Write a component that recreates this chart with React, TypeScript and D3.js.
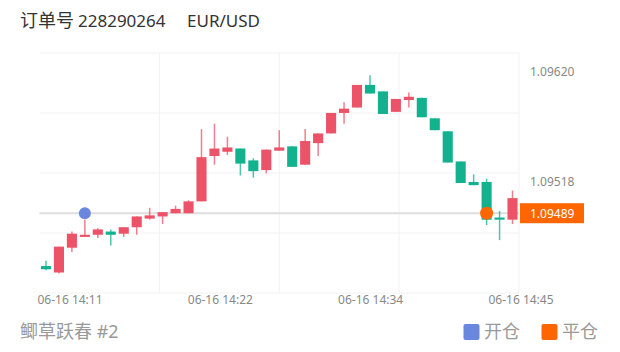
import React from "react";
import * as d3 from "d3";

const times = [
  "14:09","14:10","14:11","14:12","14:13","14:14","14:15","14:16","14:17","14:18",
  "14:19","14:20","14:21","14:22","14:23","14:24","14:25","14:26","14:27","14:28",
  "14:29","14:30","14:31","14:32","14:33","14:34","14:35","14:36","14:37","14:38",
  "14:39","14:40","14:41","14:42","14:43","14:44","14:45",
];
const opens = [
  1.09440,1.09434,1.09457,1.09467,1.09469,1.09472,1.09470,1.09476,1.09484,1.09486,
  1.09489,1.09489,1.09500,1.09542,1.09546,1.09549,1.09538,1.09529,1.09547,1.09551,
  1.09534,1.09554,1.09563,1.09582,1.09587,1.09608,1.09602,1.09583,1.09594,1.09596,
  1.09577,1.09565,1.09537,1.09518,1.09518,1.09485,1.09483,
];
const closes = [
  1.09437,1.09458,1.09470,1.09469,1.09474,1.09469,1.09476,1.09486,1.09487,1.09490,
  1.09493,1.09500,1.09541,1.09549,1.09550,1.09535,1.09528,1.09548,1.09550,1.09532,
  1.09556,1.09563,1.09582,1.09586,1.09608,1.09600,1.09581,1.09595,1.09597,1.09578,
  1.09566,1.09536,1.09517,1.09515,1.09483,1.09483,1.09503,
];
const highs = [
  1.09445,1.09458,1.09472,1.09483,1.09475,1.09474,1.09476,1.09486,1.09494,1.09490,
  1.09496,1.09501,1.09567,1.09572,1.09560,1.09549,1.09540,1.09548,1.09566,1.09551,
  1.09567,1.09563,1.09582,1.09592,1.09608,1.09617,1.09602,1.09595,1.09601,1.09596,
  1.09577,1.09565,1.09537,1.09525,1.09521,1.09491,1.09510,
];
const lows = [
  1.09436,1.09433,1.09453,1.09467,1.09466,1.09459,1.09467,1.09469,1.09483,1.09479,
  1.09489,1.09489,1.09500,1.09534,1.09543,1.09524,1.09522,1.09526,1.09547,1.09532,
  1.09534,1.09542,1.09563,1.09572,1.09587,1.09600,1.09581,1.09583,1.09587,1.09578,
  1.09566,1.09536,1.09517,1.09515,1.09478,1.09464,1.09479,
];
const yAxisLabels = [1.09620, 1.09518];
const xTickLabels = ["06-16 14:11", "06-16 14:22", "06-16 14:34", "06-16 14:45"];
const openTime = "14:12";
const closeTime = "14:43";
const tradePrice = 1.09489;
const legendItems = ["开仓", "平仓"];

const W = 620;
const H = 352;
const plot = { left: 39.5, right: 519, top: 53, bottom: 293 };
const UP = "#ec5368";
const DOWN = "#12b28f";
const OPEN_C = "#6a87de";
const CLOSE_C = "#ff6600";
const FONT = "'Noto Sans', 'Noto Sans CJK SC', sans-serif";

export default function App() {
  const x = d3.scaleBand<string>().domain(times).range([plot.left, plot.right]).paddingInner(0.22).paddingOuter(0.11);
  const y = d3.scaleLinear().domain([1.09415, 1.096376]).range([plot.bottom, plot.top]);
  const bw = x.bandwidth();
  const cx = (t: string) => (x(t) as number) + bw / 2;
  const hGrid = d3.range(5).map((i) => plot.top + ((plot.bottom - plot.top) * i) / 4);
  const vGrid = d3.range(1, 5).map((i) => plot.left + ((plot.right - plot.left) * i) / 4);
  const xLab = d3.scalePoint<string>().domain(xTickLabels).range([70, 521]);
  const fmt = d3.format(".5f");
  const ty = y(tradePrice);

  return (
    <svg width={W} height={H} style={{ position: "absolute", left: 0, top: 0, fontFamily: FONT }}>
      <rect width={W} height={H} fill="#fff" />
      <text x={20} y={27} fontSize={18} fill="#333">订单号</text>
      <text x={78} y={27} fontSize={17} fill="#333">228290264</text>
      <text x={187} y={27} fontSize={17} fill="#333">EUR/USD</text>

      {hGrid.map((g, i) => (
        <line key={"h" + i} x1={plot.left} x2={plot.right} y1={g} y2={g} stroke="#f2f2f2" strokeWidth={1} />
      ))}
      {vGrid.map((g, i) => (
        <line key={"v" + i} x1={g} x2={g} y1={plot.top} y2={plot.bottom} stroke="#f2f2f2" strokeWidth={1} />
      ))}

      <line x1={plot.left} x2={plot.right} y1={ty} y2={ty} stroke="#dedede" strokeWidth={2} />

      {times.map((t, i) => {
        const o = opens[i], c = closes[i];
        const up = c >= o;
        const col = up ? UP : DOWN;
        const top = y(Math.max(o, c));
        const bot = y(Math.min(o, c));
        return (
          <g key={t}>
            <line x1={cx(t)} x2={cx(t)} y1={y(highs[i])} y2={y(lows[i])} stroke={col} strokeOpacity={0.75} strokeWidth={1.5} />
            <rect x={x(t)} y={top} width={bw} height={Math.max(1.5, bot - top)} fill={col} />
          </g>
        );
      })}

      <circle cx={cx(openTime)} cy={ty} r={6} fill={OPEN_C} />
      <circle cx={cx(closeTime)} cy={ty} r={6.5} fill={CLOSE_C} />

      {yAxisLabels.map((v) => (
        <text key={v} x={530} y={y(v)} dy="0.35em" fontSize={12} fill="#888">{fmt(v)}</text>
      ))}
      <rect x={520} y={ty - 10} width={64} height={20} fill={CLOSE_C} />
      <text x={530} y={ty} dy="0.36em" fontSize={12} fill="#fff">{fmt(tradePrice)}</text>

      {xTickLabels.map((l) => (
        <text key={l} x={xLab(l)} y={304} textAnchor="middle" fontSize={12} fill="#888">{l}</text>
      ))}

      <text x={20} y={338} fontSize={18} fill="#999">鲫草跃春 #2</text>
      {legendItems.map((l, i) => (
        <g key={l}>
          <rect x={463.5 + i * 78} y={324} width={16} height={16} rx={2} fill={i === 0 ? OPEN_C : CLOSE_C} />
          <text x={484 + i * 78} y={338} fontSize={18} fill="#999">{l}</text>
        </g>
      ))}
    </svg>
  );
}
